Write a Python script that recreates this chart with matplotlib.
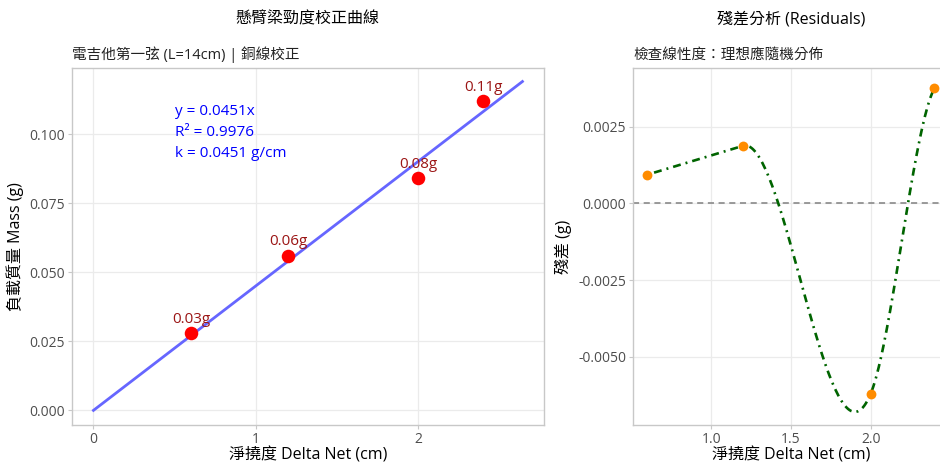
import numpy as np
import matplotlib
matplotlib.use('Agg')
import matplotlib.pyplot as plt

plt.rcParams['font.family'] = ['Open Sans', 'Noto Sans CJK TC', 'DejaVu Sans']
plt.rcParams['axes.unicode_minus'] = False

# Calibration data: net deflection (cm) and load mass (g)
delta_net = np.array([0.6, 1.2, 2.0, 2.4])
mass = np.array([0.028, 0.056, 0.084, 0.112])
mass_labels = ['0.03g', '0.06g', '0.08g', '0.11g']
k_slope = 0.0451
r_squared = 0.9976
fit_x_max = 2.64

residuals = mass - k_slope * delta_net
# slopes of the smoothed residual curve at each point
curve_slopes = np.array([0.00157, 0.00157, 0.0125, 0.0095])


def hermite_curve(x, y, m, per_seg=80):
    # piecewise cubic Hermite through the points with the given slopes
    xs_all, ys_all = [], []
    for i in range(len(x) - 1):
        h = x[i + 1] - x[i]
        t = np.linspace(0, 1, per_seg)
        h00 = 2 * t**3 - 3 * t**2 + 1
        h10 = t**3 - 2 * t**2 + t
        h01 = -2 * t**3 + 3 * t**2
        h11 = t**3 - t**2
        xs_all.append(x[i] + t * h)
        ys_all.append(h00 * y[i] + h10 * h * m[i] + h01 * y[i + 1] + h11 * h * m[i + 1])
    return np.concatenate(xs_all), np.concatenate(ys_all)


fig = plt.figure(figsize=(9.4, 4.65), dpi=100)
ax1 = fig.add_axes([0.0766, 0.086, 0.502, 0.768])
ax2 = fig.add_axes([0.6734, 0.086, 0.336, 0.768])

grid_c = '#ebebeb'
tick_c = '#4d4d4d'
for ax in (ax1, ax2):
    ax.set_facecolor('white')
    ax.grid(True, color=grid_c, linewidth=0.9)
    ax.set_axisbelow(True)
    for s in ax.spines.values():
        s.set_color('#c8c8c8')
        s.set_linewidth(1.0)
    ax.tick_params(colors='#c8c8c8', labelcolor=tick_c, labelsize=10, length=3, pad=2)

# Left: calibration
fit_x = np.array([0, fit_x_max])
ax1.plot(fit_x, k_slope * fit_x, color='#6666ff', linewidth=2, zorder=2)
ax1.scatter(delta_net, mass, s=95, color='red', zorder=3, linewidths=0)
for xv, yv, lab in zip(delta_net, mass, mass_labels):
    ax1.annotate(lab, (xv, yv), xytext=(0, 10), textcoords='offset points',
                 ha='center', va='center', color='#9b1515', fontsize=11)
ax1.text(0.5, 0.1005, 'y = 0.0451x\nR² = %.4f\nk = %.4f g/cm' % (r_squared, k_slope),
         color='blue', fontsize=11, ha='left', va='center', linespacing=1.55)
ax1.set_xlim(-0.132, 2.772)
ax1.set_ylim(-0.0053, 0.124)
ax1.set_xticks([0, 1, 2])
ax1.set_yticks([0.0, 0.025, 0.05, 0.075, 0.1])
ax1.set_yticklabels(['0.000', '0.025', '0.050', '0.075', '0.100'])
ax1.set_xlabel('淨撓度 Delta Net (cm)', fontsize=11.5, labelpad=0)
ax1.set_ylabel('負載質量 Mass (g)', fontsize=11.5, labelpad=4)
ax1.set_title('懸臂梁勁度校正曲線', fontsize=11.5, pad=32)
ax1.text(0, 1.015, '電吉他第一弦 (L=14cm) | 銅線校正', transform=ax1.transAxes,
         fontsize=10.5, ha='left', va='bottom', color='#222222')

# Right: residuals
cx, cy = hermite_curve(delta_net, residuals, curve_slopes)
ax2.axhline(0, color='#808080', linestyle=(0, (4, 3)), linewidth=1.1, zorder=1)
ax2.plot(cx, cy, color='#006400', linestyle=(0, (0.75, 1.9, 3.0, 1.9)),
         linewidth=1.9, zorder=2)
ax2.scatter(delta_net, residuals, s=50, color='#ff8c00', zorder=3, linewidths=0)
ax2.set_xlim(0.51, 2.49)
ax2.set_ylim(-0.00722, 0.00442)
ax2.set_xticks([1.0, 1.5, 2.0])
ax2.set_yticks([-0.005, -0.0025, 0.0, 0.0025])
ax2.set_yticklabels(['-0.0050', '-0.0025', '0.0000', '0.0025'])
ax2.set_xlabel('淨撓度 Delta Net (cm)', fontsize=11.5, labelpad=0)
ax2.set_ylabel('殘差 (g)', fontsize=11.5, labelpad=4)
ax2.set_title('殘差分析 (Residuals)', fontsize=11.5, pad=32)
ax2.text(0, 1.015, '檢查線性度：理想應隨機分佈', transform=ax2.transAxes,
         fontsize=10.5, ha='left', va='bottom', color='#222222')

fig.savefig('out.png', dpi=100)
